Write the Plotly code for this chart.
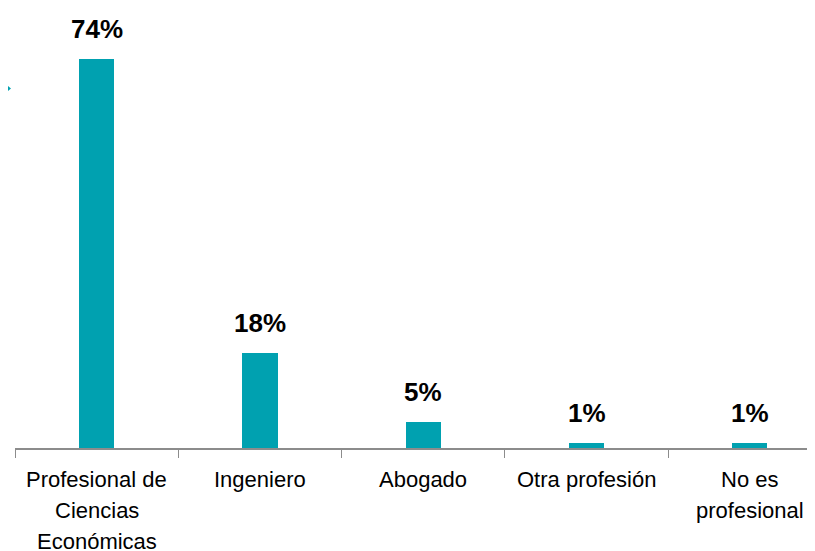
import plotly.graph_objects as go

categories = ["Profesional de<br>Ciencias<br>Económicas", "Ingeniero", "Abogado", "Otra profesión", "No es<br>profesional"]
values = [74, 18, 5, 1, 1]
labels = ["74%", "18%", "5%", "1%", "1%"]

BAR = "#00A1B0"
FONT = "Liberation Sans Narrow, Arial Narrow, Liberation Sans, sans-serif"

fig = go.Figure()
fig.add_trace(go.Bar(x=categories, y=values, marker=dict(color=BAR, line=dict(width=0)),
                     width=0.215, hoverinfo="skip"))

# value labels above bars
for c, v, t in zip(categories, values, labels):
    fig.add_annotation(x=c, y=v, text="<b>%s</b>" % t, showarrow=False, yanchor="bottom",
                       yshift=13, font=dict(family=FONT, size=26, color="#000000"))

# category labels (one annotation per line for wider line spacing)
for c in categories:
    for i, line in enumerate(c.split("<br>")):
        fig.add_annotation(x=c, y=0, text=line, showarrow=False, yanchor="middle",
                           yshift=-(31 + 31 * i), borderpad=0,
                           font=dict(family=FONT, size=22, color="#000000"))

# small teal marker at left edge
fig.add_shape(type="path", xref="paper", yref="paper",
              path="M -0.00875 0.8227 L -0.005 0.817 L -0.00875 0.8114 Z",
              fillcolor=BAR, line=dict(width=0))

fig.update_layout(
    width=807, height=543,
    margin=dict(l=7, r=0, t=0, b=103),
    paper_bgcolor="white", plot_bgcolor="white",
    showlegend=False,
    bargap=0,
    xaxis=dict(range=[-0.5, 4.399], showline=True, linecolor="#8C8C8C", linewidth=2,
               ticks="outside", tickson="boundaries", ticklen=8, tickcolor="#8C8C8C", tickwidth=1,
               showticklabels=False, automargin=False, showgrid=False),
    yaxis=dict(range=[0, 83.7], visible=False, showgrid=False, zeroline=False, automargin=False),
)

fig.write_html("out.html")
